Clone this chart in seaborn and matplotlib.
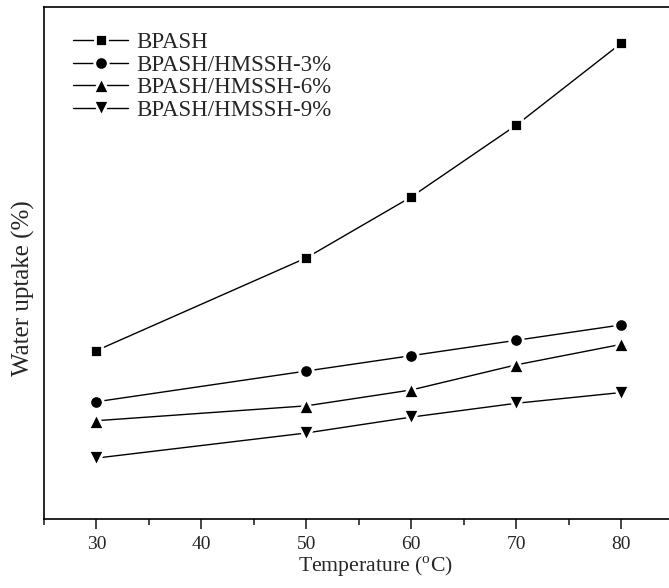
"""Water uptake vs temperature - BPASH membranes."""

import matplotlib
matplotlib.use('Agg')  # Non-interactive backend
import matplotlib.pyplot as plt
import seaborn as sns
from matplotlib.ticker import MultipleLocator

# Set style
sns.set_style("white")
plt.rcParams['font.family'] = ['Liberation Serif', 'DejaVu Serif']
plt.rcParams['mathtext.fontset'] = 'custom'
plt.rcParams['mathtext.rm'] = 'Liberation Serif'

# Data (y axis has no scale -> arbitrary units)
temperature = [30, 50, 60, 70, 80]
bpash = [32.9, 51.0, 62.9, 76.9, 92.9]
hmssh_3 = [22.9, 28.9, 31.9, 34.9, 37.9]
hmssh_6 = [19.2, 22.1, 25.2, 30.1, 34.1]
hmssh_9 = [11.9, 16.8, 19.9, 22.6, 24.7]

series_labels = ['BPASH', 'BPASH/HMSSH-3%', 'BPASH/HMSSH-6%', 'BPASH/HMSSH-9%']
series_values = [bpash, hmssh_3, hmssh_6, hmssh_9]
series_markers = ['s', 'o', '^', 'v']
marker_sizes = [8.3, 9.7, 11, 11]

fig = plt.figure(figsize=(6.69, 5.88), dpi=100)
# axes runs a little past the right edge of the picture (cropped original)
ax = fig.add_axes([44 / 669, 69 / 588, 662 / 669, 512 / 588])

for label, vals, mk, ms in zip(series_labels, series_values, series_markers, marker_sizes):
    sns.lineplot(x=temperature, y=vals, ax=ax, color='black', lw=1.0,
                 marker=mk, ms=ms, mec='white', mew=2.0, mfc='black',
                 label=label)

ax.set_xlim(25, 88.1)
ax.set_ylim(0, 100)
ax.xaxis.set_major_locator(MultipleLocator(10))
ax.xaxis.set_minor_locator(MultipleLocator(5))
ax.set_yticks([])
ax.tick_params(axis='x', which='major', direction='out', length=7.5, width=1.2,
               bottom=True, labelsize=14, pad=5)
ax.tick_params(axis='x', which='minor', direction='out', length=4, width=1.2,
               bottom=True)

for side in ['left', 'right', 'top', 'bottom']:
    ax.spines[side].set_color('black')
    ax.spines[side].set_linewidth(1.2)

ax.set_xlabel('Temperature ($^{\\mathrm{o}}$C)', fontsize=15.7, labelpad=1)
ax.set_ylabel('Water uptake (%)', fontsize=18)
ax.yaxis.set_label_coords(-0.0136, 0.451)

ax.legend(loc='upper left', bbox_to_anchor=(0.044, 0.951), frameon=False,
          fontsize=16.5, handlelength=2.4, handletextpad=0.35, labelspacing=0.07,
          borderaxespad=0, borderpad=0)

plt.savefig('out.png', dpi=100)
plt.close()
